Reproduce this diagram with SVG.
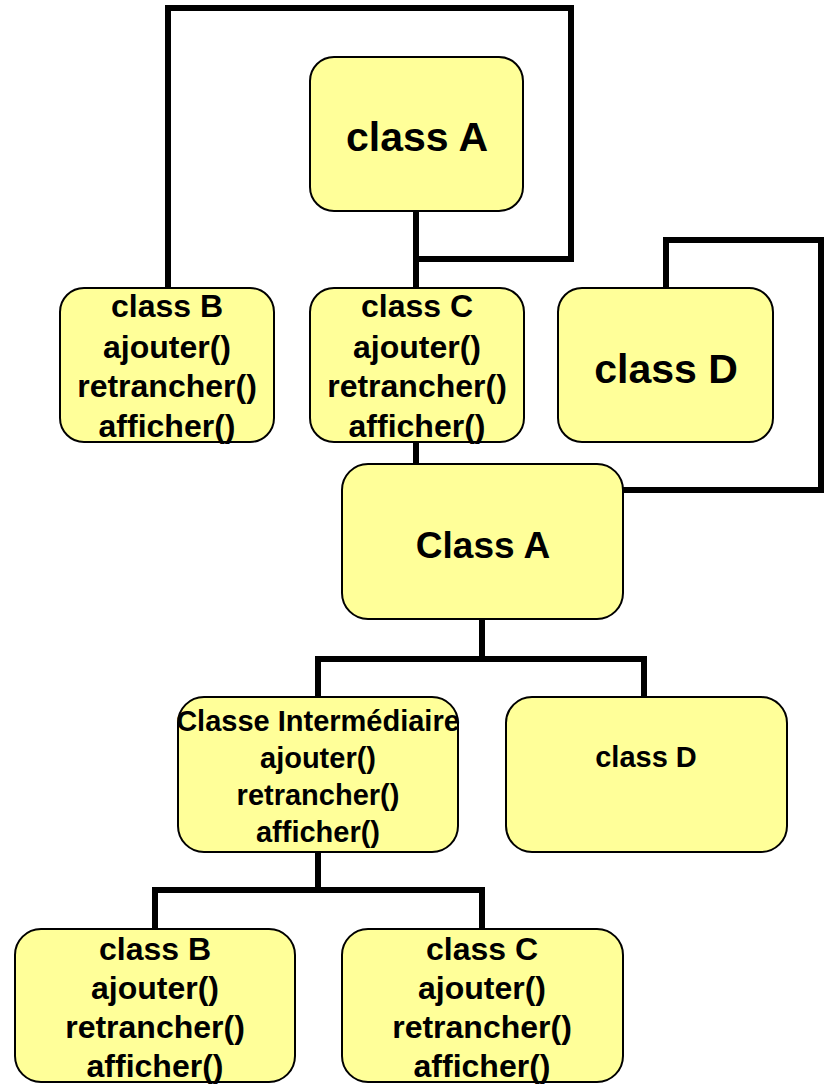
<svg xmlns="http://www.w3.org/2000/svg" width="825" height="1084" viewBox="0 0 825 1084">
  <style>
    .box { fill: #FFFF99; stroke: #000; stroke-width: 2; }
    .wire { fill: none; stroke: #000; stroke-width: 6; stroke-linejoin: miter; stroke-linecap: square; }
    text { font-family: "Liberation Sans", Arial, sans-serif; font-weight: bold; fill: #000; text-anchor: middle; }
    .big { font-size: 41px; }
    .mid { font-size: 37px; }
    .sm { font-size: 32px; }
    .xs { font-size: 29px; }
  </style>
  <rect width="825" height="1084" fill="#fff"/>

  <!-- connectors -->
  <g id="connectors">
    <path class="wire" d="M168 289 V8 H571 V259 H416"/>
    <path class="wire" d="M416 211 V289"/>
    <path class="wire" d="M666 288 V240 H821 V490 H623"/>
    <path class="wire" d="M416 442 V464"/>
    <path class="wire" d="M482 619 V659"/>
    <path class="wire" d="M318 697 V659 H644 V697"/>
    <path class="wire" d="M318 852 V890"/>
    <path class="wire" d="M155 929 V890 H482 V929"/>
  </g>

  <!-- upper hierarchy -->
  <g id="top-classA">
    <rect class="box" x="310" y="57" width="213" height="154" rx="24"/>
    <text class="big" x="417" y="151">class A</text>
  </g>
  <g id="top-classB">
    <rect class="box" x="60" y="288" width="214" height="154" rx="24"/>
    <text class="sm" x="167" y="317">class B</text>
    <text class="sm" x="167" y="358">ajouter()</text>
    <text class="sm" x="167" y="397">retrancher()</text>
    <text class="sm" x="167" y="437">afficher()</text>
  </g>
  <g id="top-classC">
    <rect class="box" x="310" y="288" width="214" height="154" rx="24"/>
    <text class="sm" x="417" y="317">class C</text>
    <text class="sm" x="417" y="358">ajouter()</text>
    <text class="sm" x="417" y="397">retrancher()</text>
    <text class="sm" x="417" y="437">afficher()</text>
  </g>
  <g id="top-classD">
    <rect class="box" x="558" y="288" width="215" height="154" rx="24"/>
    <text class="big" x="666" y="383">class D</text>
  </g>

  <!-- lower hierarchy -->
  <g id="classA">
    <rect class="box" x="342" y="464" width="281" height="155" rx="26"/>
    <text class="mid" x="483" y="558">Class A</text>
  </g>
  <g id="classe-intermediaire">
    <rect class="box" x="178" y="697" width="280" height="155" rx="26"/>
    <text class="xs" x="318" y="731">Classe Intermédiaire</text>
    <text class="xs" x="318" y="768">ajouter()</text>
    <text class="xs" x="318" y="805">retrancher()</text>
    <text class="xs" x="318" y="842">afficher()</text>
  </g>
  <g id="classD">
    <rect class="box" x="506" y="697" width="281" height="155" rx="26"/>
    <text class="xs" x="646" y="767">class D</text>
  </g>
  <g id="classB">
    <rect class="box" x="15" y="929" width="280" height="153" rx="26"/>
    <text class="sm" x="155" y="960">class B</text>
    <text class="sm" x="155" y="999">ajouter()</text>
    <text class="sm" x="155" y="1038">retrancher()</text>
    <text class="sm" x="155" y="1077">afficher()</text>
  </g>
  <g id="classC">
    <rect class="box" x="342" y="929" width="281" height="153" rx="26"/>
    <text class="sm" x="482" y="960">class C</text>
    <text class="sm" x="482" y="999">ajouter()</text>
    <text class="sm" x="482" y="1038">retrancher()</text>
    <text class="sm" x="482" y="1077">afficher()</text>
  </g>
</svg>
